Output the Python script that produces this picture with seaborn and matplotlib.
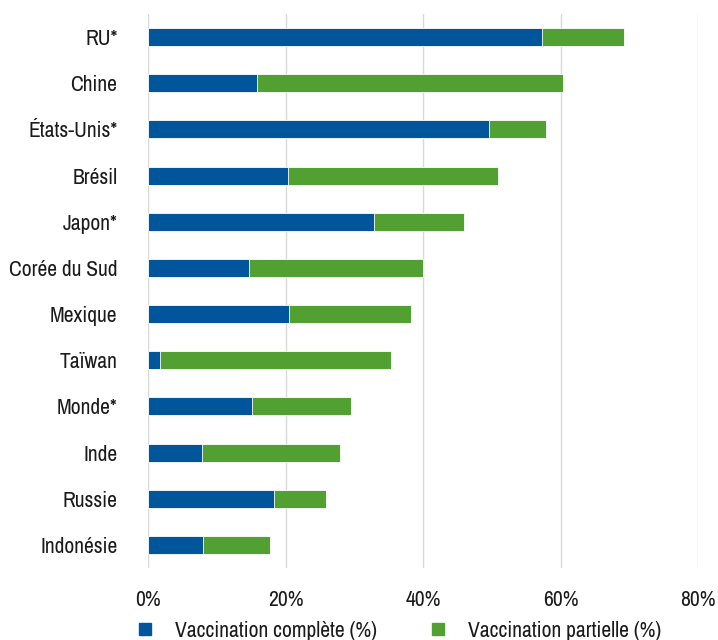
import matplotlib
matplotlib.use("Agg")
import matplotlib.pyplot as plt
import matplotlib.font_manager as fm
from matplotlib.lines import Line2D
import seaborn as sns
import pandas as pd

countries = ["RU*", "Chine", "États-Unis*", "Brésil", "Japon*", "Corée du Sud",
             "Mexique", "Taïwan", "Monde*", "Inde", "Russie", "Indonésie"]
complete = [57.3, 15.9, 49.6, 20.4, 32.9, 14.7, 20.5, 1.7, 15.1, 7.9, 18.3, 8.0]
partial = [11.9, 44.5, 8.3, 30.5, 13.1, 25.3, 17.8, 33.6, 14.4, 20.0, 7.6, 9.7]
xticks = [0, 20, 40, 60, 80]
series_names = ["Vaccination complète (%)", "Vaccination partielle (%)"]

BLUE = "#00559B"
GREEN = "#52A032"

sns.set_style("white")
names = {f.name for f in fm.fontManager.ttflist}
fam = "Liberation Sans"
for cand in ["Liberation Sans Narrow", "Archivo Narrow", "Arimo"]:
    if cand in names:
        fam = cand
        break
plt.rcParams["font.family"] = [fam, "DejaVu Sans"]

df = pd.DataFrame({"country": countries, "complete": complete, "partial": partial})
df["total"] = df["complete"] + df["partial"]

fig = plt.figure(figsize=(7.18, 6.4), dpi=100)
ax = fig.add_axes([148/718, 1-568/640, 550/718, 554/640])

sns.barplot(data=df, y="country", x="total", color=GREEN, width=0.39,
            edgecolor="white", linewidth=0.6, saturation=1, ax=ax, zorder=3)
sns.barplot(data=df, y="country", x="complete", color=BLUE, width=0.39,
            edgecolor="white", linewidth=0.6, saturation=1, ax=ax, zorder=4)

ax.set_xlim(0, 80)
ax.set_ylim(11.5, -0.5)
ax.set_xticks(xticks)
ax.set_xticklabels([f"{t}%" for t in xticks])
ax.grid(axis="x", color="#d9d9d9", linewidth=1, zorder=0)
ax.set_axisbelow(True)
for s in ax.spines.values():
    s.set_visible(False)
ax.set_xlabel("")
ax.set_ylabel("")
ax.tick_params(axis="x", length=0, pad=16, labelsize=15.5, colors="#1a1a1a")
ax.tick_params(axis="y", length=0, pad=22, labelsize=15.5, colors="#1a1a1a")

handles = [Line2D([], [], marker="s", linestyle="", markersize=8, color=BLUE),
           Line2D([], [], marker="s", linestyle="", markersize=8, color=GREEN)]
fig.legend(handles, series_names, loc="center", bbox_to_anchor=(0.554, 1-631/640),
           ncol=2, frameon=False, fontsize=15.5, handlelength=1.0, handletextpad=0.9,
           columnspacing=2.3, labelcolor="#1a1a1a", borderpad=0)

fig.savefig("out.png", dpi=100)
